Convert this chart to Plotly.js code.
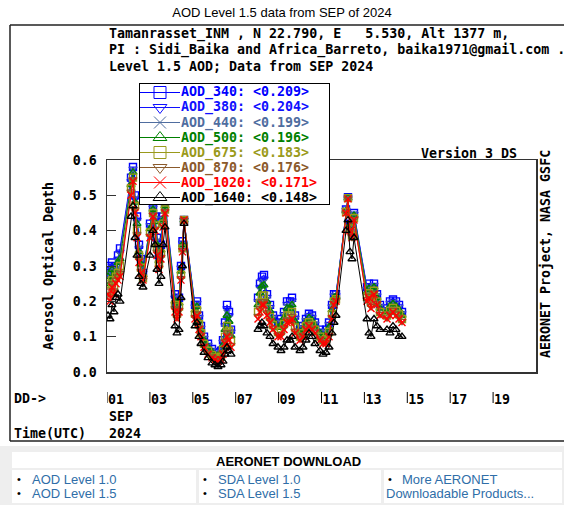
<!DOCTYPE html>
<html><head><meta charset="utf-8">
<script src="https://cdn.plot.ly/plotly-3.0.1.min.js"></script>
<style>html,body{margin:0;padding:0;background:#fff;} #chart{width:564px;height:505px;}</style>
</head><body><div id="chart"></div>
<script>
const W = 564, H = 505;
// ---- data (day of September 2024, AOD per wavelength) ----
const days = [1.047,1.140,1.233,1.326,1.420,1.513,1.606, 2.119,2.212,2.305,2.399,2.492,2.585,2.678,
 3.005,3.145,3.238,3.331,3.424,3.517,3.611,3.704, 4.170,4.263,4.357,4.450,4.520,4.590,
 5.103,5.196,5.289,5.382,5.522,5.709,5.895,6.035,6.175,6.315,6.408,6.501,6.594,6.688,6.781,
 7.5, 8.040,8.133,8.226,8.319,8.459,8.599,8.739, 8.972,9.112,9.252,9.392,9.531,9.625,9.765,
 9.998,10.138,10.277,10.417,10.557,10.697, 10.930,11.070,11.210,11.350,11.490,11.583,11.676,
 12.142,12.235,12.329,12.422,12.515, 13.121,13.214,13.308,13.448,13.587,13.727,
 14.054,14.193,14.333,14.473,14.613,14.753];
const aod340 = [.30,.28,.31,.29,.30,.33,.35, .55,.58,.50,.44,.36,.32,.28, .42,.47,.44,.38,.33,.36,.44,.48,
 .22,.19,.21,.30,.37,.43, .19,.20,.16,.13,.10,.08,.065,.055,.055,.06,.09,.14,.19,.17,.12, null,
 .21,.25,.27,.275,.22,.19,.16, .14,.15,.17,.20,.20,.21,.16, .12,.13,.15,.165,.16,.14,
 .12,.11,.12,.14,.19,.22,.22, .46,.495,.42,.40,.45, .24,.25,.23,.25,.22,.19, .18,.20,.205,.20,.19,.17];
const aod380 = [.29,.27,.30,.28,.29,.32,.34, .54,.575,.49,.43,.35,.315,.28, .415,.465,.435,.37,.325,.355,.435,.475,
 .21,.185,.205,.295,.365,.43, .185,.195,.155,.125,.096,.076,.062,.052,.052,.057,.085,.132,.18,.16,.114, null,
 .20,.24,.26,.264,.212,.183,.155, .135,.143,.163,.192,.193,.202,.153, .116,.126,.146,.16,.155,.136,
 .116,.106,.115,.135,.185,.216,.217, .458,.494,.417,.397,.447, .235,.245,.224,.246,.216,.186, .176,.195,.20,.195,.185,.166];
const aod440 = [.28,.26,.29,.27,.29,.31,.33, .54,.57,.49,.42,.35,.31,.275, .41,.46,.43,.37,.32,.35,.43,.47,
 .21,.18,.20,.29,.36,.43, .18,.19,.15,.12,.092,.072,.058,.05,.048,.053,.08,.124,.167,.15,.107, null,
 .194,.23,.25,.253,.204,.177,.15, .13,.137,.157,.184,.186,.194,.147, .112,.122,.142,.156,.15,.132,
 .112,.102,.11,.13,.18,.212,.215, .457,.494,.415,.395,.445, .23,.24,.217,.242,.212,.182, .172,.19,.196,.19,.18,.162];
const aod500 = [.27,.25,.29,.27,.28,.31,.32, .53,.565,.48,.42,.34,.305,.275, .405,.46,.425,.36,.315,.345,.43,.47,
 .20,.175,.195,.285,.36,.43, .175,.185,.145,.12,.09,.07,.056,.048,.046,.051,.076,.12,.16,.143,.103, null,
 .19,.223,.243,.246,.20,.173,.146, .126,.133,.153,.18,.18,.19,.143, .11,.12,.14,.153,.146,.13,
 .11,.10,.106,.126,.176,.21,.213, .456,.493,.413,.393,.443, .226,.236,.213,.24,.21,.18, .17,.186,.193,.186,.176,.16];
const aod675 = [.25,.23,.26,.24,.27,.28,.30, .52,.55,.47,.40,.33,.295,.265, .395,.45,.415,.35,.305,.335,.42,.46,
 .19,.165,.185,.275,.35,.43, .165,.175,.135,.11,.08,.06,.048,.041,.038,.043,.063,.10,.13,.116,.086, null,
 .17,.196,.216,.217,.18,.156,.133, .113,.116,.136,.16,.16,.17,.126, .10,.11,.13,.141,.133,.12,
 .10,.09,.093,.113,.163,.20,.206, .453,.492,.406,.386,.436, .213,.223,.196,.23,.20,.17, .16,.173,.181,.173,.163,.15];
const aod870 = [.23,.21,.25,.23,.26,.27,.28, .51,.545,.46,.39,.32,.285,.26, .385,.445,.405,.34,.295,.325,.415,.455,
 .18,.155,.175,.265,.345,.43, .155,.165,.125,.105,.074,.054,.043,.038,.033,.038,.055,.088,.112,.10,.076, null,
 .158,.18,.20,.20,.168,.146,.125, .105,.106,.126,.148,.148,.158,.116, .094,.104,.124,.135,.125,.114,
 .094,.084,.085,.105,.155,.194,.202, .451,.49,.402,.382,.432, .205,.215,.186,.224,.194,.164, .154,.165,.175,.165,.155,.144];
const aod1020 = [.22,.20,.24,.22,.25,.26,.27, .50,.54,.45,.38,.31,.28,.26, .38,.44,.40,.33,.29,.32,.41,.45,
 .17,.15,.17,.26,.34,.43, .15,.16,.12,.10,.07,.05,.04,.035,.03,.035,.05,.08,.10,.09,.07, null,
 .15,.17,.19,.19,.16,.14,.12, .10,.10,.12,.14,.14,.15,.11, .09,.10,.12,.13,.12,.11,
 .09,.08,.08,.10,.15,.19,.20, .45,.49,.40,.38,.43, .20,.21,.18,.22,.19,.16, .15,.16,.17,.16,.15,.14];
const aod1640 = [.16,.15,.19,.17,.21,.22,.20, .44,.47,.38,.33,.27,.25,.24, .33,.40,.36,.29,.25,.27,.36,.41,
 .13,.11,.12,.21,.30,.42, .13,.14,.10,.08,.055,.04,.025,.02,.015,.02,.03,.05,.07,.06,.05, null,
 .12,.13,.14,.13,.11,.10,.08, .07,.06,.07,.09,.09,.10,.07, .06,.07,.09,.11,.10,.08,
 .06,.05,.055,.07,.11,.14,.16, .40,.43,.34,.32,.38, .15,.11,.10,.15,.13,.12, .12,.11,.13,.12,.10,.10];

const seriesNames = ['AOD_340','AOD_380','AOD_440','AOD_500','AOD_675','AOD_870','AOD_1020','AOD_1640'];
const seriesMeans = [0.209,0.204,0.199,0.196,0.183,0.176,0.171,0.148];
const seriesValues = [aod340,aod380,aod440,aod500,aod675,aod870,aod1020,aod1640];
const seriesColors = ['#0000ff','#1010ff','#4f6d9f','#008000','#9a9a1a','#8b5a2b','#ff0000','#000000'];
const seriesSymbols = ['square-open','triangle-down-open','x-thin-open','triangle-up-open','square-open','triangle-down-open','x-thin-open','triangle-up-open'];

const xTickDays = [1,3,5,7,9,11,13,15,17,19];
const xTickText = ['01','03','05','07','09','11','13','15','17','19'];
const yTickVals = [0,0.1,0.2,0.3,0.4,0.5,0.6];

const headerLines = ['Tamanrasset_INM , N 22.790, E   5.530, Alt 1377 m,',
  'PI : Sidi_Baika and Africa_Barreto, baika1971@gmail.com .',
  'Level 1.5 AOD; Data from SEP 2024'];

// ---- helpers: pixel -> paper ----
const px = x => x / W;
const py = y => 1 - y / H;
const mono = {family: 'DejaVu Sans Mono, monospace', size: 13.3, color: '#000', weight: 'bold'};
const arial = {family: 'Liberation Sans, Arial, sans-serif', size: 13, color: '#000'};
const esc = s => s.replace(/</g, '&lt;').replace(/>/g, '&gt;');

const traces = seriesNames.map((n, i) => ({
  type: 'scatter', mode: 'lines+markers', name: n, x: days, y: seriesValues[i],
  xaxis: 'x', yaxis: 'y', connectgaps: false, showlegend: false,
  line: {color: seriesColors[i], width: 1},
  marker: {symbol: seriesSymbols[i], size: 7, color: seriesColors[i], line: {color: seriesColors[i], width: 1.4}}
}));

// custom legend drawn on an inset subplot
const rowY = i => 8.5 + 15 * i;
seriesNames.forEach((n, i) => {
  traces.push({
    type: 'scatter', mode: 'lines+markers', x: [0, 20, 40], y: [rowY(i), rowY(i), rowY(i)],
    xaxis: 'x2', yaxis: 'y2', showlegend: false, hoverinfo: 'skip',
    line: {color: seriesColors[i], width: 1},
    marker: {symbol: seriesSymbols[i], size: 12, opacity: [0, 1, 0], color: seriesColors[i], line: {color: seriesColors[i], width: 1}}
  });
});

const annotations = [];
const ann = (text, x, y, opts) => annotations.push(Object.assign({
  text: text, xref: 'paper', yref: 'paper', x: px(x), y: py(y), showarrow: false,
  xanchor: 'left', yanchor: 'middle', font: mono
}, opts || {}));

headerLines.forEach((t, i) => ann(t, 107, 34 + 16 * i));
ann('Version 3 DS', 419, 153);
ann('AERONET Project, NASA GSFC', 545, 254, {xanchor: 'center', textangle: -90});
ann('DD-&gt;', 12, 398);
ann('SEP', 107, 416);
ann('2024', 107, 433);
ann('Time(UTC)', 12, 433);
seriesNames.forEach((n, i) => ann(esc(n + ': <' + seriesMeans[i].toFixed(3) + '>'), 179, 84 + rowY(i),
  {font: Object.assign({}, mono, {color: seriesColors[i]})}));

// bottom download table
const link = Object.assign({}, arial, {color: '#2f6ea8'});
ann('AERONET DOWNLOAD', 288, 461, {xanchor: 'center', font: Object.assign({}, arial, {weight: 'bold'})});
const bullets = [[15, 479], [15, 493], [201, 479], [201, 493], [386, 479]];
bullets.forEach(b => ann('•', b[0], b[1], {font: Object.assign({}, arial, {size: 11})}));
ann('AOD Level 1.0', 30, 479, {font: link});
ann('AOD Level 1.5', 30, 493, {font: link});
ann('SDA Level 1.0', 216, 479, {font: link});
ann('SDA Level 1.5', 216, 493, {font: link});
ann('More AERONET', 400, 479, {font: link});
ann('Downloadable Products...', 384, 493, {font: link});

const shapes = [];
const frame = {color: '#222', width: 1.5};
shapes.push({type: 'rect', xref: 'paper', yref: 'paper', x0: 0, x1: 1, y0: py(505), y1: py(446), fillcolor: '#eeeeee', line: {width: 0}, layer: 'below'});
shapes.push({type: 'rect', xref: 'paper', yref: 'paper', x0: px(12), x1: px(562), y0: py(468), y1: py(452), fillcolor: '#ffffff', line: {width: 0}, layer: 'below'});
[[12, 196], [199, 381], [384, 562]].forEach(c => shapes.push({type: 'rect', xref: 'paper', yref: 'paper', x0: px(c[0]), x1: px(c[1]), y0: py(503), y1: py(470), fillcolor: '#ffffff', line: {width: 0}, layer: 'below'}));
shapes.push({type: 'line', xref: 'paper', yref: 'paper', x0: px(10), x1: px(10), y0: py(25), y1: py(441), line: frame});
shapes.push({type: 'line', xref: 'paper', yref: 'paper', x0: px(10), x1: px(566), y0: py(25), y1: py(25), line: frame});
shapes.push({type: 'line', xref: 'paper', yref: 'paper', x0: px(10), x1: px(566), y0: py(441), y1: py(441), line: frame});
xTickDays.forEach(d => shapes.push({type: 'line', xref: 'x', yref: 'paper', x0: d, x1: d, y0: py(403), y1: py(392), line: {color: '#000', width: 1}}));

const layout = {
  width: W, height: H, margin: {l: 0, r: 0, t: 0, b: 0},
  paper_bgcolor: '#ffffff', plot_bgcolor: '#ffffff', showlegend: false,
  title: {text: 'AOD Level 1.5 data from SEP of 2024', font: arial, x: 0.5, xref: 'container', xanchor: 'center', y: py(12), yref: 'container', yanchor: 'middle'},
  xaxis: {domain: [px(107), px(536)], range: [1, 21], anchor: 'y', tickvals: xTickDays, ticktext: xTickText,
    ticks: '', showgrid: false, zeroline: false, showline: true, mirror: true, linecolor: '#333', linewidth: 1.5,
    tickfont: mono, ticklabelshift: 9, ticklabelstandoff: 15},
  yaxis: {domain: [py(372), py(160)], range: [0, 0.6], anchor: 'x', tickvals: yTickVals, tickformat: '.1f',
    ticks: 'inside', ticklen: 9, tickcolor: '#333', tickwidth: 1, showgrid: false, zeroline: false,
    showline: true, mirror: true, linecolor: '#333', linewidth: 1.5, tickfont: mono, ticklabelstandoff: 6,
    title: {text: 'Aerosol Optical Depth', font: mono, standoff: 16}},
  xaxis2: {domain: [px(140), px(329)], range: [0, 189], anchor: 'y2', showticklabels: false, ticks: '', showgrid: false,
    zeroline: false, showline: true, mirror: true, linecolor: '#000', linewidth: 1},
  yaxis2: {domain: [py(204), py(84)], range: [120, 0], anchor: 'x2', showticklabels: false, ticks: '', showgrid: false,
    zeroline: false, showline: true, mirror: true, linecolor: '#000', linewidth: 1},
  shapes: shapes, annotations: annotations
};

Plotly.newPlot('chart', traces, layout, {staticPlot: true, displayModeBar: false});
</script></body></html>
